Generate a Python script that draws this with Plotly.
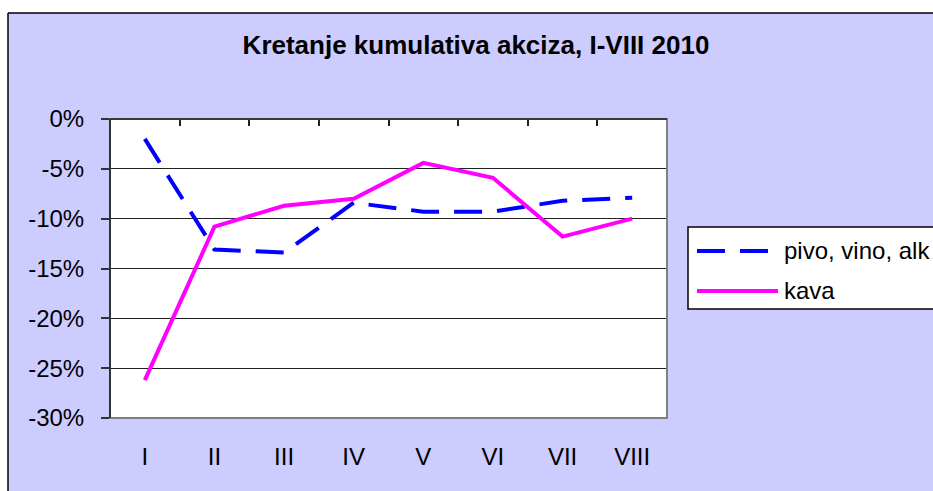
import plotly.graph_objects as go

# ---- data ----
months = ["I", "II", "III", "IV", "V", "VI", "VII", "VIII"]
pivo_vino_alk = [-2.0, -13.1, -13.4, -8.4, -9.3, -9.3, -8.2, -7.9]
kava = [-26.2, -10.8, -8.7, -8.0, -4.4, -5.9, -11.8, -10.0]
y_tickvals = [0, -5, -10, -15, -20, -25, -30]
y_ticktext = ["0%", "-5%", "-10%", "-15%", "-20%", "-25%", "-30%"]
title_text = "Kretanje kumulativa akciza, I-VIII 2010"
series_names = ["pivo, vino, alk", "kava"]

# ---- layout geometry ----
W, H = 933, 491
L, R, T, B = 110, 266, 119, 73
PW, PH = W - L - R, H - T - B
FONT = "Liberation Sans, Arial, sans-serif"
BG = "#CCCCFF"
BLUE = "#0000FF"
MAGENTA = "#FF00FF"


def px_x(p):
    return (p - L) / PW


def px_y(p):
    return (H - B - p) / PH


fig = go.Figure()
fig.add_trace(go.Scatter(
    x=months, y=pivo_vino_alk, mode="lines", name=series_names[0],
    line=dict(color=BLUE, width=4, dash="28px,15px"), showlegend=False))
fig.add_trace(go.Scatter(
    x=months, y=kava, mode="lines", name=series_names[1],
    line=dict(color=MAGENTA, width=4), showlegend=False))
# helper trace for the top category axis (tick marks at boundaries)
fig.add_trace(go.Scatter(
    x=months, y=[None] * len(months), xaxis="x2", mode="lines",
    showlegend=False, hoverinfo="skip"))

shapes = []
# white margins outside the chart border
shapes.append(dict(type="rect", xref="paper", yref="paper",
                   x0=px_x(-20), x1=px_x(960), y0=px_y(13), y1=px_y(-20),
                   fillcolor="white", line=dict(width=0), layer="above"))
shapes.append(dict(type="rect", xref="paper", yref="paper",
                   x0=px_x(-20), x1=px_x(8), y0=px_y(520), y1=px_y(13),
                   fillcolor="white", line=dict(width=0), layer="above"))
# chart border lines
shapes.append(dict(type="line", xref="paper", yref="paper",
                   x0=px_x(8), x1=px_x(960), y0=px_y(13), y1=px_y(13),
                   line=dict(color="black", width=1.5), layer="above"))
shapes.append(dict(type="line", xref="paper", yref="paper",
                   x0=px_x(8), x1=px_x(8), y0=px_y(13), y1=px_y(520),
                   line=dict(color="black", width=1.5), layer="above"))
# plot frame
shapes.append(dict(type="rect", xref="paper", yref="paper",
                   x0=0, x1=1, y0=0, y1=1,
                   line=dict(color="#808080", width=2), layer="above"))
shapes.append(dict(type="line", xref="paper", yref="paper",
                   x0=0, x1=0, y0=0, y1=1,
                   line=dict(color="#333333", width=2), layer="above"))
shapes.append(dict(type="line", xref="paper", yref="paper",
                   x0=0, x1=1, y0=1, y1=1,
                   line=dict(color="#222222", width=1.5), layer="above"))
# legend box
shapes.append(dict(type="rect", xref="paper", yref="paper",
                   x0=px_x(688), x1=px_x(980), y0=px_y(309), y1=px_y(227),
                   fillcolor="white", line=dict(color="black", width=1.5), layer="above"))
shapes.append(dict(type="line", xref="paper", yref="paper",
                   x0=px_x(697), x1=px_x(768), y0=px_y(251), y1=px_y(251),
                   line=dict(color=BLUE, width=4, dash="28px,15px"), layer="above"))
shapes.append(dict(type="line", xref="paper", yref="paper",
                   x0=px_x(697), x1=px_x(778), y0=px_y(291), y1=px_y(291),
                   line=dict(color=MAGENTA, width=4), layer="above"))

annotations = [
    dict(xref="paper", yref="paper", x=px_x(782), y=px_y(250), text=series_names[0],
         xanchor="left", yanchor="middle", showarrow=False,
         font=dict(family=FONT, size=24, color="black")),
    dict(xref="paper", yref="paper", x=px_x(782), y=px_y(290), text=series_names[1],
         xanchor="left", yanchor="middle", showarrow=False,
         font=dict(family=FONT, size=24, color="black")),
]

fig.update_layout(
    width=W, height=H,
    margin=dict(l=L, r=R, t=T, b=B, pad=0),
    paper_bgcolor=BG, plot_bgcolor="white",
    font=dict(family=FONT, size=24, color="black"),
    title=dict(text=f"<b>{title_text}</b>", xref="container", yref="container",
               x=476 / W, y=1 - 45 / H, xanchor="center", yanchor="middle",
               font=dict(family=FONT, size=26, color="black")),
    xaxis=dict(type="category", categoryarray=months, range=[-0.5, 7.5],
               showgrid=False, zeroline=False, showline=False, ticks="",
               tickfont=dict(family=FONT, size=24), ticklabelstandoff=22),
    xaxis2=dict(type="category", categoryarray=months, range=[-0.5, 7.5],
                overlaying="x", side="top", showgrid=False, zeroline=False,
                showline=False, ticks="inside", tickson="boundaries", ticklen=7,
                tickcolor="#222222", tickwidth=1.5, showticklabels=False),
    yaxis=dict(range=[-30, 0], tickvals=y_tickvals, ticktext=y_ticktext,
               showgrid=True, gridcolor="#222222", gridwidth=1, zeroline=False,
               showline=False, ticks="outside", ticklen=8, tickcolor="#333333",
               tickwidth=1.5, tickfont=dict(family=FONT, size=24),
               ticklabelstandoff=12),
    shapes=shapes,
    annotations=annotations,
    showlegend=False,
)

fig.write_html("out.html", config={"displayModeBar": False},
               post_script="document.body.style.margin='0';document.body.style.overflow='hidden';")
